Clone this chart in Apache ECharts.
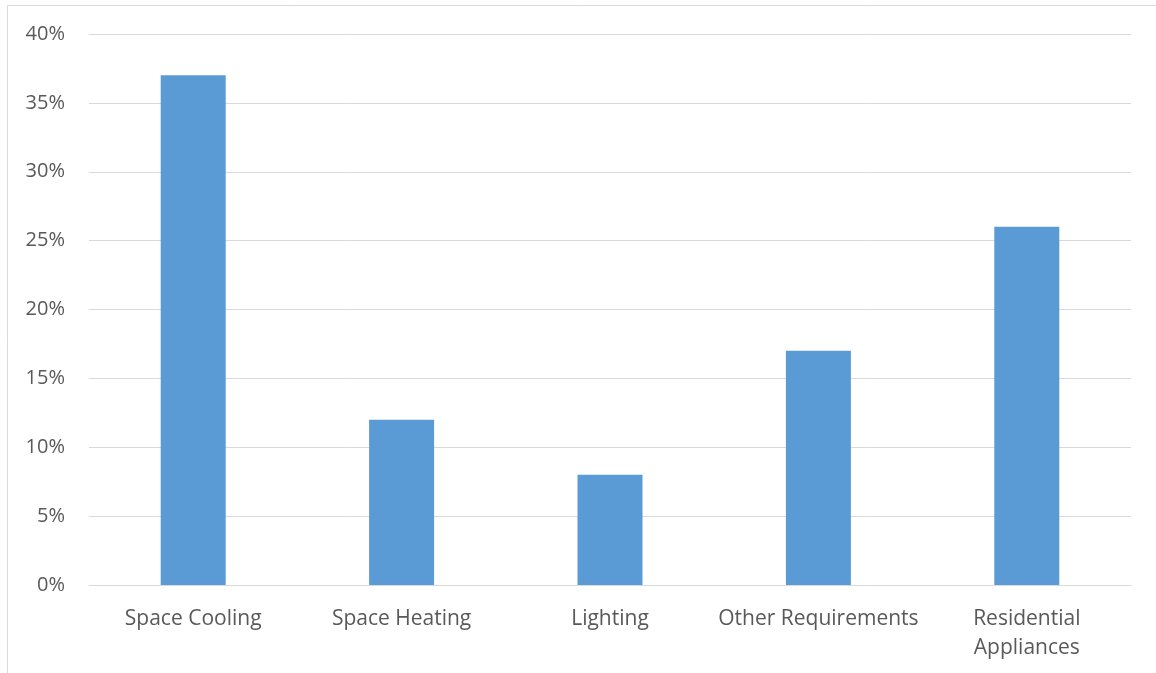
<!DOCTYPE html>
<html>
<head>
<meta charset="utf-8">
<script src="https://cdn.jsdelivr.net/npm/echarts@6/dist/echarts.min.js"></script>
<style>
  html, body { margin: 0; padding: 0; background: #fff; }
  #chart { width: 1156px; height: 673px; }
</style>
</head>
<body>
<div id="chart"></div>
<script>
// Share of electricity demand by end use
const categories = ['Space Cooling', 'Space Heating', 'Lighting', 'Other Requirements', 'Residential\nAppliances'];
const shares = [37, 12, 8, 17, 26];
const yTicks = [0, 5, 10, 15, 20, 25, 30, 35, 40];

const chart = echarts.init(document.getElementById('chart'), null, { renderer: 'canvas' });
const fontFamily = '"Open Sans", "Liberation Sans", sans-serif';

chart.setOption({
  animation: false,
  backgroundColor: '#ffffff',
  graphic: [{
    type: 'rect',
    shape: { x: 7.5, y: 5.5, width: 1300, height: 800 },
    style: { fill: 'none', stroke: '#d9d9d9', lineWidth: 1 },
    silent: true
  }],
  grid: { left: 89, right: 25, top: 34, bottom: 88, containLabel: false },
  xAxis: {
    type: 'category',
    data: categories,
    axisLine: { show: true, lineStyle: { color: '#d9d9d9', width: 1 } },
    axisTick: { show: false },
    axisLabel: {
      color: '#595959', fontSize: 21, fontFamily: fontFamily,
      margin: 20, lineHeight: 29, interval: 0
    }
  },
  yAxis: {
    type: 'value',
    min: yTicks[0],
    max: yTicks[yTicks.length - 1],
    interval: 5,
    axisLine: { show: false },
    axisTick: { show: false },
    splitLine: { lineStyle: { color: '#d9d9d9', width: 1 } },
    axisLabel: {
      color: '#595959', fontSize: 20, fontFamily: fontFamily,
      margin: 24, formatter: v => v + '%'
    }
  },
  series: [{
    type: 'bar',
    data: shares,
    barWidth: 65,
    itemStyle: { color: '#5b9bd5' }
  }]
});
</script>
</body>
</html>
